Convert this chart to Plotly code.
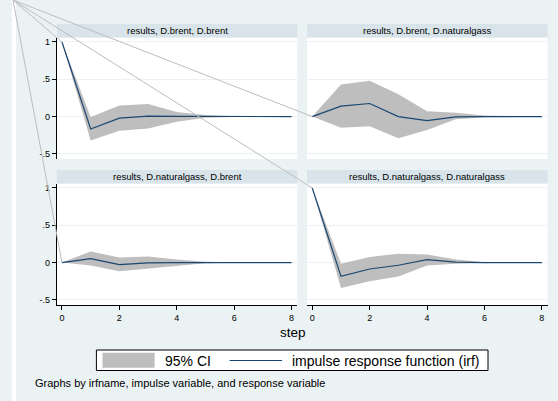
import plotly.graph_objects as go

# ---------------- data ----------------
steps = [0, 1, 2, 3, 4, 5, 6, 7, 8]

panel_titles = [
    "results, D.brent, D.brent",
    "results, D.brent, D.naturalgass",
    "results, D.naturalgass, D.brent",
    "results, D.naturalgass, D.naturalgass",
]

irf_bb = [1.0, -0.166, -0.020, 0.005, 0.004, 0.002, 0.000, 0.000, 0.000]
lo_bb = [1.0, -0.320, -0.190, -0.160, -0.070, -0.015, -0.004, -0.001, 0.000]
hi_bb = [1.0, -0.005, 0.150, 0.170, 0.060, 0.020, 0.004, 0.001, 0.000]

irf_bn = [0.0, 0.140, 0.175, 0.000, -0.054, -0.005, 0.000, 0.000, 0.000]
lo_bn = [0.0, -0.150, -0.130, -0.290, -0.180, -0.035, -0.010, -0.003, 0.000]
hi_bn = [0.0, 0.430, 0.480, 0.300, 0.070, 0.050, 0.015, 0.003, 0.000]

irf_nb = [0.0, 0.054, -0.027, -0.005, 0.000, 0.000, 0.000, 0.000, 0.000]
lo_nb = [0.0, -0.040, -0.117, -0.080, -0.040, -0.010, -0.002, 0.000, 0.000]
hi_nb = [0.0, 0.150, 0.067, 0.080, 0.040, 0.010, 0.002, 0.000, 0.000]

irf_nn = [1.0, -0.185, -0.086, -0.036, 0.040, 0.005, 0.000, 0.000, 0.000]
lo_nn = [1.0, -0.340, -0.250, -0.185, -0.040, -0.015, -0.005, -0.001, 0.000]
hi_nn = [1.0, -0.015, 0.076, 0.120, 0.108, 0.040, 0.005, 0.001, 0.000]

y_tickvals = [-0.5, 0, 0.5, 1]
y_ticktext = ["-.5", "0", ".5", "1"]
x_tickvals = [0, 2, 4, 6, 8]
x_ticktext = ["0", "2", "4", "6", "8"]

x_title = "step"
note_text = "Graphs by irfname, impulse variable, and response variable"
ci_name = "95% CI"
irf_name = "impulse response function (irf)"

# ---------------- style ----------------
W, H = 558, 401
FONT = "Liberation Sans, Arial, sans-serif"
BG = "#EAF2F3"
STRIP = "#D8E4EA"
CI_COL = "#BEBEBE"
LINE_COL = "#1A476F"
ART_COL = "#BDBDBD"

XR = [-0.18, 8.2]
YR = [-0.57, 1.06]


def px_x(p):
    return p / W


def px_y(p):
    return 1 - p / H


left_dom = [px_x(56.8), px_x(297.3)]
right_dom = [px_x(307.1), px_x(547.6)]
top_dom = [px_y(159.1), px_y(37.5)]
bot_dom = [px_y(305.1), px_y(183.5)]

panels = [
    (irf_bb, lo_bb, hi_bb, left_dom, top_dom),
    (irf_bn, lo_bn, hi_bn, right_dom, top_dom),
    (irf_nb, lo_nb, hi_nb, left_dom, bot_dom),
    (irf_nn, lo_nn, hi_nn, right_dom, bot_dom),
]

fig = go.Figure()

for i, (irf, lo, hi, xd, yd) in enumerate(panels):
    n = "" if i == 0 else str(i + 1)
    xa, ya = "x" + n, "y" + n
    fig.add_trace(go.Scatter(x=steps, y=lo, xaxis=xa, yaxis=ya, mode="lines",
                             line=dict(width=0, color=CI_COL), showlegend=False,
                             hoverinfo="skip"))
    fig.add_trace(go.Scatter(x=steps, y=hi, xaxis=xa, yaxis=ya, mode="lines",
                             line=dict(width=0, color=CI_COL), fill="tonexty",
                             fillcolor=CI_COL, name=ci_name, showlegend=False))
for i, (irf, lo, hi, xd, yd) in enumerate(panels):
    n = "" if i == 0 else str(i + 1)
    xa, ya = "x" + n, "y" + n
    fig.add_trace(go.Scatter(x=steps, y=irf, xaxis=xa, yaxis=ya, mode="lines",
                             line=dict(width=1.2, color=LINE_COL), name=irf_name,
                             showlegend=False))

shapes = []
annotations = []

# white strip near left edge
shapes.append(dict(type="rect", xref="paper", yref="paper", x0=px_x(12), x1=px_x(16),
                   y0=0, y1=1, fillcolor="white", line=dict(width=0), layer="below"))

for i, (irf, lo, hi, xd, yd) in enumerate(panels):
    n = "" if i == 0 else str(i + 1)
    is_left = i in (0, 2)
    is_bottom = i in (2, 3)
    fig.layout["xaxis" + n] = dict(
        domain=xd, range=XR, anchor="y" + n, showgrid=False, zeroline=False,
        showline=is_bottom, linecolor="#000000", linewidth=1,
        ticks="outside" if is_bottom else "", ticklen=4, tickcolor="#000000",
        tickvals=x_tickvals, ticktext=x_ticktext, showticklabels=is_bottom,
        tickfont=dict(size=9, color="#000000"), fixedrange=True)
    fig.layout["yaxis" + n] = dict(
        domain=yd, range=YR, anchor="x" + n, showgrid=True, gridcolor=BG,
        gridwidth=1, zeroline=False, showline=is_left, linecolor="#000000",
        linewidth=1, ticks="outside" if is_left else "", ticklen=4,
        tickcolor="#000000", tickvals=y_tickvals, ticktext=y_ticktext,
        showticklabels=is_left, tickfont=dict(size=9, color="#000000"),
        fixedrange=True)
    shapes.append(dict(type="rect", xref="paper", yref="paper", x0=xd[0], x1=xd[1],
                       y0=yd[0], y1=yd[1], fillcolor="white", line=dict(width=0),
                       layer="below"))
    s_top = yd[1] + 13.5 / H
    shapes.append(dict(type="rect", xref="paper", yref="paper", x0=xd[0], x1=xd[1],
                       y0=yd[1], y1=s_top, fillcolor=STRIP, line=dict(width=0),
                       layer="below"))
    annotations.append(dict(text=panel_titles[i], xref="paper", yref="paper",
                            x=(xd[0] + xd[1]) / 2, y=(yd[1] + s_top) / 2,
                            xanchor="center", yanchor="middle", showarrow=False,
                            font=dict(size=9.5, color="#000000")))

# rendering artefact: thin lines from the top-left corner to each panel's first point
for i, (irf, lo, hi, xd, yd) in enumerate(panels):
    fx = xd[0] + (steps[0] - XR[0]) / (XR[1] - XR[0]) * (xd[1] - xd[0])
    fy = yd[0] + (irf[0] - YR[0]) / (YR[1] - YR[0]) * (yd[1] - yd[0])
    shapes.append(dict(type="line", xref="paper", yref="paper", x0=px_x(13), y0=1,
                       x1=fx, y1=fy, line=dict(color=ART_COL, width=1), layer="above"))

annotations.append(dict(text=x_title, xref="paper", yref="paper", x=px_x(293),
                        y=px_y(332.7), xanchor="center", yanchor="middle",
                        showarrow=False, font=dict(size=13.5, color="#000000")))
annotations.append(dict(text=note_text, xref="paper", yref="paper", x=px_x(33),
                        y=px_y(382.7), xanchor="left", yanchor="middle",
                        showarrow=False, font=dict(size=11, color="#000000")))

# legend (drawn as box + keys + text)
LEG_Y = 360.5
shapes.append(dict(type="rect", xref="paper", yref="paper", x0=px_x(96.4), x1=px_x(488),
                   y0=px_y(370.5), y1=px_y(350), fillcolor="white",
                   line=dict(color="#000000", width=1), layer="above"))
shapes.append(dict(type="rect", xref="paper", yref="paper", x0=px_x(102.5), x1=px_x(154.6),
                   y0=px_y(367.7), y1=px_y(352.7), fillcolor=CI_COL,
                   line=dict(width=0), layer="above"))
shapes.append(dict(type="line", xref="paper", yref="paper", x0=px_x(229.6), x1=px_x(282),
                   y0=px_y(LEG_Y), y1=px_y(LEG_Y), line=dict(color=LINE_COL, width=1.2),
                   layer="above"))
annotations.append(dict(text=ci_name, xref="paper", yref="paper", x=px_x(163),
                        y=px_y(LEG_Y), xanchor="left", yanchor="middle",
                        showarrow=False, font=dict(size=14, color="#000000")))
annotations.append(dict(text=irf_name, xref="paper", yref="paper", x=px_x(290),
                        y=px_y(LEG_Y), xanchor="left", yanchor="middle",
                        showarrow=False, font=dict(size=14, color="#000000")))

fig.update_layout(
    width=W, height=H, margin=dict(l=0, r=0, t=0, b=0),
    paper_bgcolor=BG, plot_bgcolor="rgba(0,0,0,0)",
    font=dict(family=FONT, color="#000000"),
    shapes=shapes, annotations=annotations,
    showlegend=False,
    hovermode=False,
)

fig.write_html(
    "out.html",
    config={"displayModeBar": False, "staticPlot": True},
    post_script="document.body.style.margin='0';document.body.style.padding='0';"
                "document.body.style.overflow='hidden';",
)
